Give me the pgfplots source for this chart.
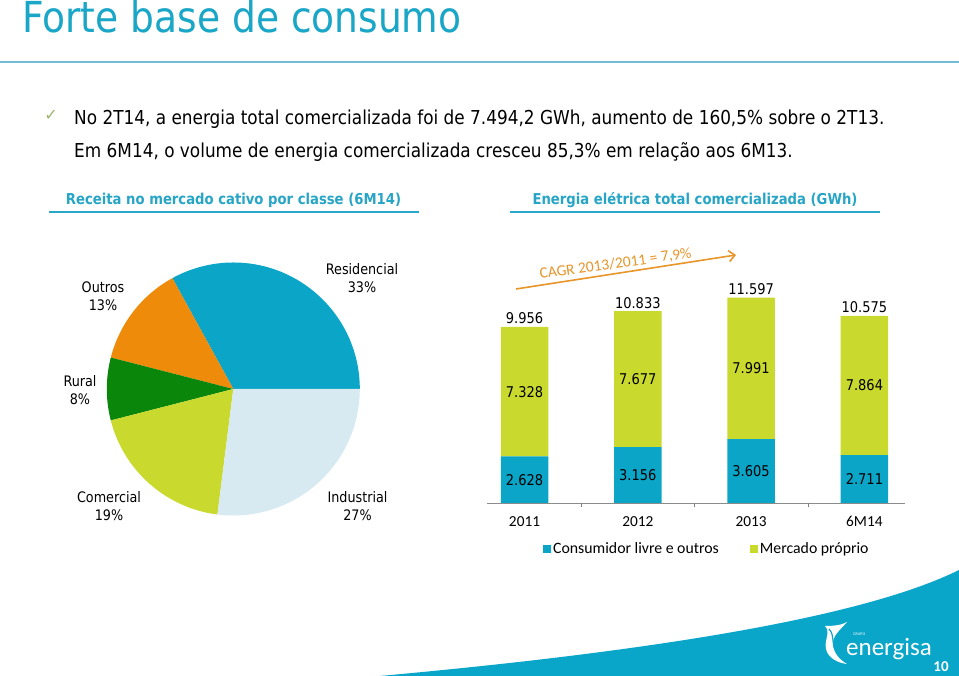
\documentclass[border=0pt]{standalone}
\usepackage{pgfplots}
\pgfplotsset{compat=1.18}
\usepackage{fontspec}
\usetikzlibrary{arrows.meta}
\setmainfont{DejaVu Sans}
\newfontfamily\tah[FakeStretch=0.88]{DejaVu Sans}
\newfontfamily\calib{Carlito}
\newfontfamily\symf{DejaVu Sans}
\definecolor{cBlue}{HTML}{0BA5C8}
\definecolor{cLime}{HTML}{C9D92E}
\definecolor{cOrange}{HTML}{EE8B0B}
\definecolor{cGreen}{HTML}{0A870A}
\definecolor{cLight}{HTML}{D7EAF1}
\definecolor{titleC}{HTML}{19A6C7}
\definecolor{headC}{HTML}{27A5C6}
\definecolor{lineC}{HTML}{2AA8CA}
\definecolor{topLine}{HTML}{74BDD8}
\definecolor{orangeC}{HTML}{E8952A}
\definecolor{axisgray}{HTML}{8C8C8C}
\definecolor{checkC}{HTML}{9BB56B}
\definecolor{swoosh}{HTML}{0AA6C9}
\tikzset{vlab/.style={inner sep=0pt, font=\tah\fontsize{14.8}{14.8}\selectfont}}
\begin{document}
\begin{tikzpicture}[x=1pt,y=1pt]
\fill[white] (0,0) rectangle (959,676);
\useasboundingbox (0,0) rectangle (959,676);
% swoosh
\fill[swoosh] (380,0) .. controls (600,20) and (850,52) .. (959,106) -- (959,0) -- cycle;
% title
\node[anchor=base west, inner sep=0pt, text=titleC, font=\tah\fontsize{42.7}{42.7}\selectfont] at (22,643) {Forte base de consumo};
\draw[topLine, line width=2pt] (0,614) -- (959,614);
% bullets
\node[anchor=center, inner sep=0pt, text=checkC, font=\symf\fontsize{16}{16}\selectfont] at (51,561) {✓};
\node[anchor=base west, inner sep=0pt, font=\tah\fontsize{19.2}{19.2}\selectfont] at (74,551) {No 2T14, a energia total comercializada foi de 7.494,2 GWh, aumento de 160,5\% sobre o 2T13.};
\node[anchor=base west, inner sep=0pt, font=\tah\fontsize{19.2}{19.2}\selectfont] at (74,518.5) {Em 6M14, o volume de energia comercializada cresceu 85,3\% em relação aos 6M13.};
% headings
\node[anchor=base, inner sep=0pt, text=headC, font=\tah\bfseries\fontsize{15}{15}\selectfont] at (233.5,471) {Receita no mercado cativo por classe (6M14)};
\draw[lineC, line width=2pt] (49,464) -- (419,464);
\node[anchor=base, inner sep=0pt, text=headC, font=\tah\bfseries\fontsize{15}{15}\selectfont] at (695,471) {Energia elétrica total comercializada (GWh)};
\draw[lineC, line width=2pt] (510,464) -- (880,464);
% pie
\begin{scope}[shift={(233.3,287)}]
\def\angstart{0}
\foreach \val/\col in {33/cBlue,13/cOrange,8/cGreen,19/cLime,27/cLight}{
  \pgfmathsetmacro\angend{\angstart+3.6*\val}
  \fill[\col] (0,0) -- (\angstart:126.5) arc[start angle=\angstart, end angle=\angend, radius=126.5] -- cycle;
  \global\let\angstart\angend
}
\end{scope}
\begin{scope}[every node/.style={align=center, inner sep=0pt, font=\tah\fontsize{14.5}{17.5}\selectfont}]
\node at (362,398) {Residencial\\33\%};
\node at (103,380) {Outros\\13\%};
\node at (80,286) {Rural\\8\%};
\node at (109,170) {Comercial\\19\%};
\node at (357.5,170) {Industrial\\27\%};
\end{scope}
% bar chart
\begin{axis}[
  at={(487pt,173pt)}, anchor=south west,
  x=113.3pt, y=0.0177pt,
  xmin=-0.331, xmax=3.36, ymin=0, ymax=13000,
  enlargelimits=false,
  ybar stacked, bar width=47.5pt,
  axis x line*=bottom, axis y line=none,
  axis line style={draw=axisgray, line width=0.8pt},
  xtick={0,1,2,3}, xticklabels={2011,2012,2013,6M14},
  major tick length=0pt,
  extra x ticks={0.5,1.5,2.5}, extra x tick labels={},
  extra x tick style={major tick length=4pt, tick align=outside},
  xticklabel style={font=\calib\fontsize{15.3}{15.3}\selectfont, yshift=-10pt},
  ytick=\empty,
  clip=false,
  legend style={at={(0.1339,-0.2)}, anchor=west, draw=none, fill=none, inner sep=0pt,
    font=\calib\fontsize{15.8}{15.8}\selectfont,
    /tikz/every even column/.append style={column sep=29pt}},
  legend columns=2,
]
\addplot[fill=cBlue, draw=none, legend image code/.code={\fill[cBlue] (0pt,-4pt) rectangle (8pt,4pt);}] coordinates {(0,2628) (1,3156) (2,3605) (3,2711)};
\addplot[fill=cLime, draw=none, legend image code/.code={\fill[cLime] (0pt,-4pt) rectangle (8pt,4pt);}] coordinates {(0,7328) (1,7677) (2,7991) (3,7864)};
\legend{Consumidor livre e outros, Mercado próprio}
\coordinate (b0) at (axis cs:0,1314);
\coordinate (b1) at (axis cs:1,1578);
\coordinate (b2) at (axis cs:2,1802.5);
\coordinate (b3) at (axis cs:3,1355.5);
\coordinate (g0) at (axis cs:0,6292);
\coordinate (g1) at (axis cs:1,6994.5);
\coordinate (g2) at (axis cs:2,7600.5);
\coordinate (g3) at (axis cs:3,6643);
\coordinate (t0) at (axis cs:0,9956);
\coordinate (t1) at (axis cs:1,10833);
\coordinate (t2) at (axis cs:2,11597);
\coordinate (t3) at (axis cs:3,10575);
\end{axis}
\node[vlab] at (b0) {2.628};
\node[vlab] at (b1) {3.156};
\node[vlab] at (b2) {3.605};
\node[vlab] at (b3) {2.711};
\node[vlab] at (g0) {7.328};
\node[vlab] at (g1) {7.677};
\node[vlab] at (g2) {7.991};
\node[vlab] at (g3) {7.864};
\node[vlab, anchor=base, yshift=3pt] at (t0) {9.956};
\node[vlab, anchor=base, yshift=3pt] at (t1) {10.833};
\node[vlab, anchor=base, yshift=3pt] at (t2) {11.597};
\node[vlab, anchor=base, yshift=3pt] at (t3) {10.575};
% CAGR
\draw[orangeC, line width=1.6pt, -{Straight Barb[length=6pt, width=11pt]}] (516,387) -- (736,421);
\node[rotate=8, text=orangeC, inner sep=0pt, font=\calib\fontsize{15.5}{15.5}\selectfont] at (615.5,412) {CAGR 2013/2011 = 7,9\%};
% logo
\begin{scope}[yshift=3pt]
\fill[white] (825,47) .. controls (834,47) and (842,48) .. (847,51) .. controls (840,43) and (832,37) .. (833,28) .. controls (834,19) and (840,13) .. (847,9) .. controls (838,10) and (828,15) .. (826,24) .. controls (824,33) and (831,41) .. (825,47) -- cycle;
\draw[swoosh, line width=1.2pt] (829,44) .. controls (835,38) and (831,30) .. (836,22);
\end{scope}
\node[anchor=base west, inner sep=0pt, text=white, font=\calib\fontsize{4}{4}\selectfont] at (853,40) {GRUPO};
\node[anchor=base west, inner sep=0pt, text=white, font=\calib\fontsize{25}{25}\selectfont] at (846,20) {energisa};
\node[anchor=base, inner sep=0pt, text=white, font=\calib\bfseries\fontsize{15}{15}\selectfont] at (941,4) {10};
\end{tikzpicture}
\end{document}
